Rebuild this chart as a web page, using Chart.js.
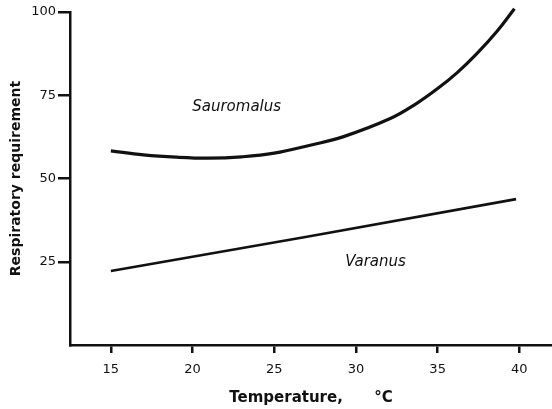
<!DOCTYPE html>
<html>
<head>
<meta charset="utf-8">
<script src="https://cdn.jsdelivr.net/npm/chart.js@4"></script>
<style>
  body { margin: 0; background: #fff; }
  canvas { display: block; }
</style>
</head>
<body>
<canvas id="respChart" width="552" height="409"></canvas>
<script>
// values
const sauroTemp = [15, 17, 19, 21, 23, 25, 27.2, 29.2, 32.1, 33.7, 35, 36.2, 37.4, 38.65, 39.7];
const sauroReq = [58.3, 57.1, 56.4, 56.1, 56.5, 57.6, 60, 62.5, 68, 72.5, 77, 81.8, 87.5, 94.3, 101];
const varanTemp = [15, 27, 39.8];
const varanReq = [22.2, 32.5, 43.8];
const xTicks = [15, 20, 25, 30, 35, 40];
const yTicks = [0, 25, 50, 75, 100];
const speciesLabels = [
  { text: "Sauromalus", x: 22.7, y: 71.5 },
  { text: "Varanus", x: 31.2, y: 24.9 }
];

const ink = "#111";
const toPoints = (xs, ys) => xs.map((x, i) => ({ x: x, y: ys[i] }));

const speciesText = {
  id: "speciesText",
  afterDatasetsDraw(chart) {
    const c = chart.ctx;
    c.save();
    c.fillStyle = ink;
    c.font = "italic 15px 'DejaVu Sans'";
    c.textAlign = "center";
    c.textBaseline = "middle";
    speciesLabels.forEach(l => {
      c.fillText(l.text, chart.scales.x.getPixelForValue(l.x), chart.scales.y.getPixelForValue(l.y));
    });
    c.restore();
  }
};

const ctx = document.getElementById("respChart").getContext("2d");
new Chart(ctx, {
  type: "line",
  data: {
    datasets: [{
      label: "Sauromalus",
      data: toPoints(sauroTemp, sauroReq),
      borderColor: ink,
      borderWidth: 3.2,
      pointRadius: 0,
      tension: 0.4,
      clip: false
    }, {
      label: "Varanus",
      data: toPoints(varanTemp, varanReq),
      borderColor: ink,
      borderWidth: 2.6,
      pointRadius: 0,
      clip: false
    }]
  },
  options: {
    responsive: false,
    animation: false,
    layout: { padding: { top: 12, right: 0, left: 0, bottom: 0 } },
    plugins: {
      legend: { display: false },
      tooltip: { enabled: false }
    },
    scales: {
      x: {
        type: "linear",
        min: 12.5,
        max: 42,
        afterBuildTicks: scale => { scale.ticks = xTicks.map(v => ({ value: v })); },
        afterFit: scale => { scale.height = 64; },
        grid: { drawOnChartArea: false, color: ink, lineWidth: 2.5, tickLength: 8 },
        border: { color: ink, width: 2.5 },
        ticks: { color: ink, padding: 9, font: { family: "DejaVu Sans", size: 13 } },
        title: {
          display: true,
          text: "Temperature,      °C",
          color: ink,
          font: { family: "DejaVu Sans", size: 15, weight: "bold" },
          padding: { top: 0, bottom: 2 }
        }
      },
      y: {
        min: 0,
        max: 100,
        afterBuildTicks: scale => { scale.ticks = yTicks.map(v => ({ value: v })); },
        afterFit: scale => { scale.width = 70; },
        grid: {
          drawOnChartArea: false,
          lineWidth: 2.5,
          tickLength: 12,
          color: c => (c.tick && c.tick.value === 0) ? "rgba(0,0,0,0)" : ink
        },
        border: { color: ink, width: 2.5 },
        ticks: {
          color: ink,
          padding: 2,
          font: { family: "DejaVu Sans", size: 13 },
          callback: v => v === 0 ? "" : v
        },
        title: {
          display: true,
          text: "Respiratory requirement",
          color: ink,
          font: { family: "DejaVu Sans", size: 14, weight: "bold" },
          padding: { top: 8, bottom: 0 }
        }
      }
    }
  },
  plugins: [speciesText]
});
</script>
</body>
</html>
